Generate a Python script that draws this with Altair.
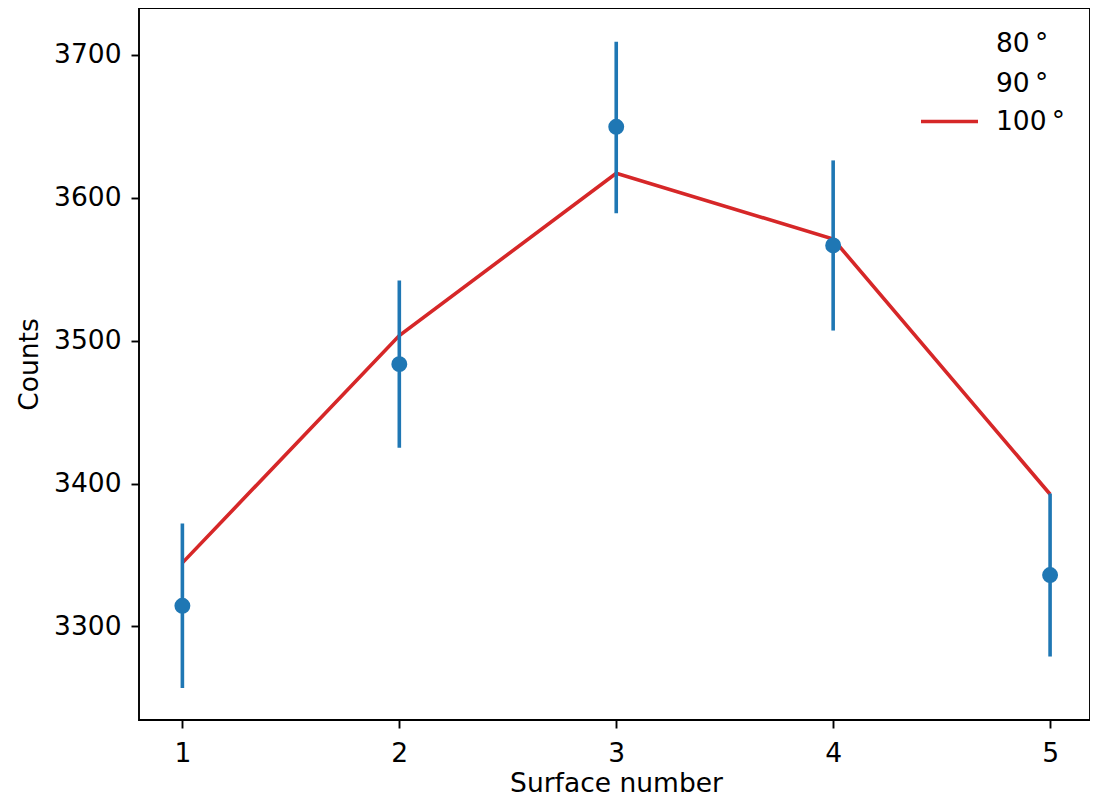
import altair as alt
import pandas as pd

surface = [1, 2, 3, 4, 5]
counts = [3314.5, 3483.5, 3649.5, 3566.5, 3336.0]
err_lo = [3257, 3425, 3589, 3507, 3279]
err_hi = [3372, 3542, 3709, 3626, 3393]
model_100 = [3344.5, 3503.5, 3617.0, 3571.0, 3392.5]
legend_labels = ["80\u2009°", "90\u2009°", "100\u2009°"]

FONT = "DejaVu Sans"
FS = 26.5
BLUE = "#1f77b4"
RED = "#d62728"

df = pd.DataFrame({"s": surface, "c": counts, "lo": err_lo, "hi": err_hi, "m": model_100})

xs = alt.Scale(domain=[0.8, 5.184], nice=False, zero=False)
ys = alt.Scale(domain=[3234.6, 3732.6], nice=False, zero=False)

xax = alt.Axis(values=surface, format="d", title="Surface number", grid=False,
               tickSize=8, tickWidth=1.9, tickColor="black", labelPadding=12,
               domain=False, labelFont=FONT, labelFontSize=FS, labelColor="black",
               titleFont=FONT, titleFontSize=FS, titleFontWeight="normal", titleColor="black",
               titleX=477, titleY=71, titleBaseline="alphabetic", titleAlign="center")
yax = alt.Axis(values=[3300, 3400, 3500, 3600, 3700], format="d", title="Counts", grid=False,
               tickSize=8, tickWidth=1.9, tickColor="black", labelPadding=10,
               domain=False, labelFont=FONT, labelFontSize=FS, labelColor="black",
               titleFont=FONT, titleFontSize=FS, titleFontWeight="normal", titleColor="black",
               titleX=-110, titleY=356, titleAngle=-90, titleBaseline="middle", titleAlign="center")

base = alt.Chart(df)

err = base.mark_rule(color=BLUE, strokeWidth=3.6).encode(
    x=alt.X("s:Q", scale=xs, axis=xax),
    y=alt.Y("lo:Q", scale=ys, axis=yax),
    y2="hi:Q",
)
pts = base.mark_circle(color=BLUE, size=254, opacity=1).encode(
    x=alt.X("s:Q", scale=xs),
    y=alt.Y("c:Q", scale=ys),
)
line = base.mark_line(color=RED, strokeWidth=3.6).encode(
    x=alt.X("s:Q", scale=xs),
    y=alt.Y("m:Q", scale=ys),
)

leg_y = [36, 76, 114]
leg_layers = []
for lab, yy in zip(legend_labels, leg_y):
    leg_layers.append(
        alt.Chart(pd.DataFrame({"t": [lab]})).mark_text(
            font=FONT, fontSize=FS, align="left", baseline="middle", color="black"
        ).encode(text="t:N", x=alt.value(857), y=alt.value(yy))
    )
leg_line = alt.Chart(pd.DataFrame({"a": [0]})).mark_rule(color=RED, strokeWidth=3.6).encode(
    x=alt.value(782), x2=alt.value(839), y=alt.value(113.5)
)

chart = alt.layer(line, err, pts, leg_line, *leg_layers).properties(
    width=951, height=712,
    background="white",
    autosize=alt.AutoSizeParams(type="none"),
    padding={"left": 131, "top": 0, "right": 0, "bottom": 74},
).configure_view(stroke="black", strokeWidth=1.9)

chart.save("out.html", embed_options={"renderer": "svg", "actions": False})
